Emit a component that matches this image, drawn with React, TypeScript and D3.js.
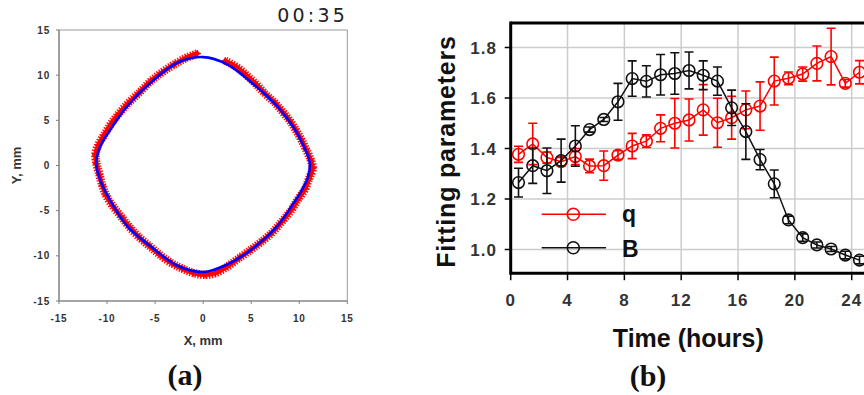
import React from 'react';
import * as d3 from 'd3';

// ---------- Panel (b) data ----------
const hours = [0.55, 1.55, 2.55, 3.55, 4.55, 5.55, 6.55, 7.55, 8.55, 9.55, 10.55, 11.55, 12.55, 13.55, 14.55, 15.55, 16.55, 17.55, 18.55, 19.55, 20.55, 21.55, 22.55, 23.55, 24.55];
const qValues = [1.377, 1.418, 1.364, 1.348, 1.368, 1.331, 1.332, 1.374, 1.41, 1.429, 1.48, 1.5, 1.513, 1.553, 1.502, 1.522, 1.553, 1.568, 1.667, 1.678, 1.695, 1.737, 1.764, 1.658, 1.702];
const qErrors = [0.032, 0.082, 0.022, 0.017, 0.032, 0.027, 0.058, 0.017, 0.05, 0.025, 0.053, 0.098, 0.083, 0.1, 0.097, 0.085, 0.075, 0.096, 0.095, 0.025, 0.028, 0.069, 0.112, 0.015, 0.046];
const bValues = [1.265, 1.332, 1.312, 1.352, 1.41, 1.475, 1.515, 1.585, 1.677, 1.666, 1.692, 1.697, 1.709, 1.69, 1.667, 1.561, 1.467, 1.356, 1.26, 1.117, 1.047, 1.018, 1.002, 0.978, 0.958];
const bErrors = [0.057, 0.07, 0.09, 0.085, 0.08, 0.01, 0.008, 0.073, 0.07, 0.062, 0.08, 0.082, 0.073, 0.057, 0.056, 0.07, 0.11, 0.04, 0.055, 0.015, 0.015, 0.012, 0.01, 0.015, 0.015];
const timeTicks = [0, 4, 8, 12, 16, 20, 24];
const paramTicks = [1.0, 1.2, 1.4, 1.6, 1.8];

// ---------- Panel (a) data (mm) ----------
const mmTicks = [-15, -10, -5, 0, 5, 10, 15];
const fitX = [0, 2.5, 5.27, 7.7, 9.43, 10.47, 11.1, 10.9, 10.3, 9.43, 7.7, 5.27, 2.5, 0, -2.7, -5.48, -7.9, -10.1, -10.85, -11.13, -10.7, -9.65, -7.9, -5.48, -2.7];
const fitY = [12.0, 11.2, 8.97, 6.57, 4.17, 2.14, 0.3, -1.3, -2.66, -4.13, -6.72, -9.1, -10.96, -11.8, -11.07, -8.94, -6.72, -3.02, -1.2, 0.3, 2.14, 3.99, 6.57, 9.16, 11.37];
const scatterX = [2.3, 3.5, 4.5, 5.5, 6.5, 7.5, 8.3, 9.0, 9.6, 10.2, 10.7, 11.2, 11.4, 11.0, 10.6, 9.9, 9.2, 8.2, 7.2, 6.0, 5.0, 3.8, 2.5, 1.3, 0.2, -1.0, -2.2, -3.3, -4.5, -5.5, -6.6, -7.6, -8.5, -9.4, -10.1, -10.5, -10.8, -11.1, -11.2, -10.9, -10.3, -9.6, -8.8, -7.8, -6.7, -5.5, -4.3, -3.0, -1.8, -0.6];
const scatterY = [11.6, 10.9, 10.0, 9.0, 7.9, 6.9, 5.9, 5.0, 4.0, 2.9, 1.8, 0.6, -0.3, -1.5, -2.6, -3.7, -4.9, -6.2, -7.4, -8.5, -9.3, -10.2, -11.2, -11.9, -12.1, -11.9, -11.4, -10.8, -9.9, -9.0, -8.0, -6.9, -5.7, -4.5, -3.3, -2.2, -1.0, 0.2, 1.2, 2.3, 3.4, 4.6, 5.7, 6.9, 8.0, 9.3, 10.3, 11.2, 11.9, 12.4];

const SANS = "'Liberation Sans', Arial, sans-serif";
const SERIF = "'Liberation Serif', 'Times New Roman', serif";

export default function App() {
  // Panel (a) scales
  const xA = d3.scaleLinear().domain([-15, 15]).range([59, 347.3]);
  const yA = d3.scaleLinear().domain([-15, 15]).range([301, 30]);

  // Panel (b) scales
  const xB = d3.scaleLinear().domain([0, 24]).range([510.7, 851.7]);
  const yB = d3.scaleLinear().domain([1.0, 1.8]).range([249.5, 47.5]);
  const bTop = yB(1.897);
  const bBottom = yB(0.906);
  const bLeft = xB(0);
  const bRight = xB(26);

  const fitPts: [number, number][] = fitX.map((x, i) => [xA(x), yA(fitY[i])]);
  const fitPath = d3.line().curve(d3.curveCatmullRomClosed.alpha(0.5))(fitPts) || '';
  const scPts: [number, number][] = scatterX.map((x, i) => [xA(x), yA(scatterY[i])]);
  const scPath = d3.line().curve(d3.curveCatmullRom.alpha(0.5))(scPts) || '';

  const lineB = d3.line<number>().x((_, i) => xB(hours[i])).y((v) => yB(v));

  const series = [
    { name: 'q', values: qValues, errors: qErrors, color: '#ff0000' },
    { name: 'B', values: bValues, errors: bErrors, color: '#111111' },
  ];

  return (
    <svg width={864} height={395} style={{ position: 'absolute', left: 0, top: 0, background: '#fff' }}>
      <rect x={0} y={0} width={864} height={395} fill="#fff" />
      {/* ================= Panel (a) ================= */}
      <text x={348} y={21.5} textAnchor="end" fontFamily="'DejaVu Sans', sans-serif" fontSize={19} letterSpacing={3.2} fill="#222">00:35</text>
      <rect x={xA(-15)} y={yA(15)} width={xA(15) - xA(-15)} height={yA(-15) - yA(15)} fill="none" stroke="#9a9a9a" strokeWidth={1} />
      <line x1={xA(-15)} x2={xA(-15)} y1={yA(15)} y2={yA(-15)} stroke="#808080" strokeWidth={1.2} />
      <line x1={xA(-15)} x2={xA(15)} y1={yA(-15)} y2={yA(-15)} stroke="#808080" strokeWidth={1.2} />
      {mmTicks.map((t) => (
        <g key={'ay' + t}>
          <line x1={xA(-15) - 3} x2={xA(-15)} y1={yA(t)} y2={yA(t)} stroke="#808080" />
          <text x={50} y={yA(t) + 3.5} textAnchor="end" fontFamily={SANS} fontWeight="bold" fontSize={10} letterSpacing={0.8} fill="#333">{t}</text>
        </g>
      ))}
      {mmTicks.map((t) => (
        <g key={'ax' + t}>
          <line x1={xA(t)} x2={xA(t)} y1={yA(-15)} y2={yA(-15) + 3} stroke="#808080" />
          <text x={xA(t)} y={321.5} textAnchor="middle" fontFamily={SANS} fontWeight="bold" fontSize={10} letterSpacing={0.8} fill="#333">{t}</text>
        </g>
      ))}
      <text x={xA(0)} y={345} textAnchor="middle" fontFamily={SANS} fontWeight="bold" fontSize={13} fill="#333">X, mm</text>
      <text transform={`translate(21,${yA(0)}) rotate(-90)`} textAnchor="middle" fontFamily={SANS} fontWeight="bold" fontSize={13} fill="#333">Y, mm</text>

      {/* red measured points */}
      <path d={scPath} fill="none" stroke="#ff1010" strokeWidth={8.5} strokeDasharray="1.4 1.3" strokeLinejoin="round" />
      <path d={scPath} fill="none" stroke="#ff0000" strokeWidth={4.5} strokeLinejoin="round" strokeLinecap="round" />
      {scPts.map((p, i) => (
        <g key={'sc' + i} stroke="#ff0000" strokeWidth={1.4}>
          <line x1={p[0] - 3.5} x2={p[0] + 3.5} y1={p[1]} y2={p[1]} />
          <line x1={p[0]} x2={p[0]} y1={p[1] - 3.5} y2={p[1] + 3.5} />
        </g>
      ))}
      {/* blue fit */}
      <path d={fitPath} fill="none" stroke="#0000ff" strokeWidth={2.6} />

      <text x={185} y={385} textAnchor="middle" fontFamily={SERIF} fontWeight="bold" fontSize={30} fill="#111">(a)</text>

      {/* ================= Panel (b) ================= */}
      <defs>
        <clipPath id="clipB">
          <rect x={bLeft} y={bTop} width={bRight - bLeft} height={bBottom - bTop} />
        </clipPath>
      </defs>
      {paramTicks.map((t) => (
        <line key={'gy' + t} x1={bLeft} x2={bRight} y1={yB(t)} y2={yB(t)} stroke="#cccccc" strokeWidth={1.5} />
      ))}
      {timeTicks.filter((t) => t > 0).map((t) => (
        <line key={'gx' + t} x1={xB(t)} x2={xB(t)} y1={bTop} y2={bBottom} stroke="#cccccc" strokeWidth={1.5} />
      ))}

      {/* legend */}
      <g>
        <line x1={541.7} x2={606} y1={214.3} y2={214.3} stroke="#ff0000" strokeWidth={1.5} />
        <circle cx={573.3} cy={214.3} r={6} fill="none" stroke="#ff0000" strokeWidth={1.6} />
        <text x={622} y={221.5} fontFamily={SANS} fontWeight="bold" fontSize={23} fill="#111">q</text>
        <line x1={541.7} x2={606} y1={247.7} y2={247.7} stroke="#111" strokeWidth={1.5} />
        <circle cx={573.3} cy={247.7} r={6} fill="none" stroke="#111" strokeWidth={1.6} />
        <text x={622} y={256.5} fontFamily={SANS} fontWeight="bold" fontSize={23} fill="#111">B</text>
      </g>

      <g clipPath="url(#clipB)">
        {series.map((s) => (
          <g key={s.name}>
            <path d={lineB(s.values) || ''} fill="none" stroke={s.color} strokeWidth={1.5} />
            {s.values.map((v, i) => {
              const x = xB(hours[i]);
              const e = s.errors[i];
              return (
                <g key={i} stroke={s.color} strokeWidth={1.6} fill="none">
                  <line x1={x} x2={x} y1={yB(v - e)} y2={yB(v + e)} />
                  <line x1={x - 4.5} x2={x + 4.5} y1={yB(v - e)} y2={yB(v - e)} />
                  <line x1={x - 4.5} x2={x + 4.5} y1={yB(v + e)} y2={yB(v + e)} />
                  <circle cx={x} cy={yB(v)} r={5.8} />
                </g>
              );
            })}
          </g>
        ))}
      </g>

      {/* frame */}
      <line x1={bLeft} x2={bRight} y1={bTop} y2={bTop} stroke="#000" strokeWidth={3} />
      <line x1={bLeft} x2={bLeft} y1={bTop - 1.5} y2={bBottom + 1.5} stroke="#000" strokeWidth={3} />
      <line x1={bLeft} x2={bRight} y1={bBottom} y2={bBottom} stroke="#000" strokeWidth={3} />

      {paramTicks.map((t) => (
        <g key={'by' + t}>
          <line x1={bLeft - 6} x2={bLeft} y1={yB(t)} y2={yB(t)} stroke="#000" strokeWidth={1.5} />
          <text x={497} y={yB(t) + 6} textAnchor="end" fontFamily={SANS} fontWeight="bold" fontSize={17} letterSpacing={1} fill="#333">{t.toFixed(1)}</text>
        </g>
      ))}
      {timeTicks.map((t) => (
        <g key={'bx' + t}>
          <line x1={xB(t)} x2={xB(t)} y1={bBottom} y2={bBottom + 7} stroke="#000" strokeWidth={1.5} />
          <text x={xB(t)} y={306} textAnchor="middle" fontFamily={SANS} fontWeight="bold" fontSize={17} letterSpacing={1} fill="#333">{t}</text>
        </g>
      ))}
      <text x={688.3} y={346.5} textAnchor="middle" fontFamily={SANS} fontWeight="bold" fontSize={25} fill="#111">Time (hours)</text>
      <text transform={`translate(455,151.5) rotate(-90)`} textAnchor="middle" fontFamily={SANS} fontWeight="bold" fontSize={25} letterSpacing={0.8} fill="#111">Fitting parameters</text>

      <text x={648} y={386} textAnchor="middle" fontFamily={SERIF} fontWeight="bold" fontSize={30} fill="#111">(b)</text>
    </svg>
  );
}
